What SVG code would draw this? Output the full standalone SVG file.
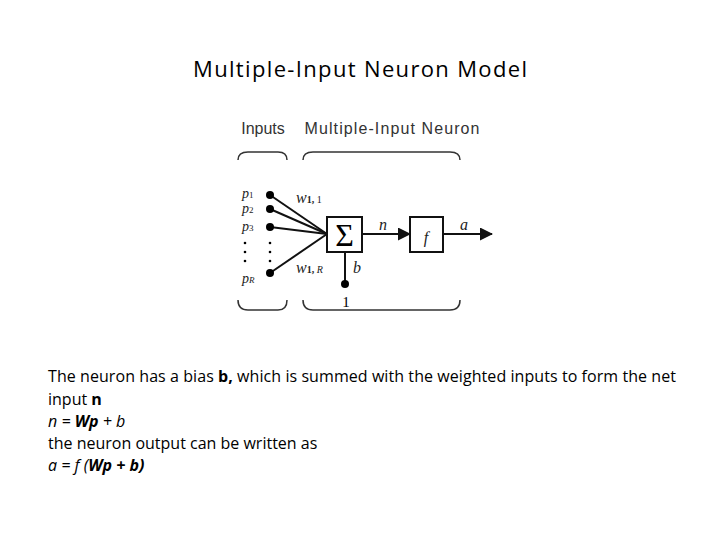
<svg xmlns="http://www.w3.org/2000/svg" width="720" height="540" viewBox="0 0 720 540">
<defs>
<style>
.s{font-family:"Liberation Serif",serif;font-style:italic;font-size:16px;fill:#222}
.p{font-size:14px}
.h{font-family:"Liberation Sans",Arial,sans-serif;font-size:16px;fill:#333}
.t{font-family:"Open Sans","Liberation Sans",sans-serif;font-size:16px;fill:#000}
.ln{stroke:#111;stroke-width:2;fill:none}
.br{stroke:#333;stroke-width:1.5;fill:none}
</style>
<marker id="ar" markerWidth="13" markerHeight="13" refX="12" refY="6.5" orient="auto" markerUnits="userSpaceOnUse"><path d="M0,0 L13,6.5 L0,13 Z" fill="#111"/></marker>
</defs>
<rect width="720" height="540" fill="#fff"/>
<text x="360" y="77" text-anchor="middle" font-family="Open Sans,Liberation Sans,sans-serif" font-size="22" textLength="334">Multiple-Input Neuron Model</text>
<text class="h" x="263" y="134" text-anchor="middle">Inputs</text>
<text class="h" x="392" y="134" text-anchor="middle" textLength="175">Multiple-Input Neuron</text>
<g id="braces" class="br">
<path d="M238,160 Q238,152 248,152 L278,152 Q287,152 287,160"/>
<path d="M303,160 Q303,152 313,152 L450,152 Q460,152 460,160"/>
<path d="M238,300 Q238,310 248,310 L278,310 Q287,310 287,300"/>
<path d="M303,300 Q303,310 313,310 L450,310 Q460,310 460,300"/>
</g>
<g id="connectors" class="ln">
<line x1="270" y1="195" x2="327" y2="234"/>
<line x1="270" y1="209" x2="327" y2="234"/>
<line x1="270" y1="227" x2="327" y2="234"/>
<line x1="270" y1="273" x2="327" y2="234"/>
<line x1="362" y1="234" x2="410" y2="234" marker-end="url(#ar)"/>
<line x1="443" y1="234" x2="492" y2="234" marker-end="url(#ar)"/>
<line x1="345" y1="252" x2="345" y2="283"/>
</g>
<g id="inputs">
<circle cx="270" cy="195" r="4"/><circle cx="270" cy="209" r="4"/><circle cx="270" cy="227" r="4"/><circle cx="270" cy="273" r="4"/>
<circle cx="245" cy="243" r="1.3"/><circle cx="245" cy="252" r="1.3"/><circle cx="245" cy="261" r="1.3"/>
<circle cx="270" cy="243" r="1.3"/><circle cx="270" cy="252" r="1.3"/><circle cx="270" cy="261" r="1.3"/>
<text class="s p" x="242" y="198">p<tspan font-size="9" font-style="normal">1</tspan></text>
<text class="s p" x="242" y="213">p<tspan font-size="9" font-style="normal">2</tspan></text>
<text class="s p" x="242" y="231">p<tspan font-size="9" font-style="normal">3</tspan></text>
<text class="s p" x="242" y="283">p<tspan font-size="9">R</tspan></text>
<text class="s" x="296" y="203">w<tspan font-size="10" font-style="normal" font-weight="bold">1,</tspan><tspan font-size="10" font-style="normal"> 1</tspan></text>
<text class="s" x="296" y="273">w<tspan font-size="10" font-style="normal" font-weight="bold">1,</tspan><tspan font-size="10"> R</tspan></text>
</g>
<g id="sum">
<rect x="327" y="217" width="35" height="35" fill="#fff" stroke="#111" stroke-width="2"/>
<text x="344.5" y="246" text-anchor="middle" font-family="Liberation Serif,serif" font-size="32">Σ</text>
</g>
<g id="func">
<rect x="410" y="217" width="33" height="35" fill="#fff" stroke="#111" stroke-width="2"/>
<text class="s" x="426" y="243" text-anchor="middle" font-size="24">f</text>
</g>
<text class="s" x="383" y="230" text-anchor="middle">n</text>
<text class="s" x="464" y="230" text-anchor="middle">a</text>
<g id="bias">
<circle cx="345" cy="284" r="4"/>
<text class="s" x="357" y="273" text-anchor="middle">b</text>
<text x="346" y="307" text-anchor="middle" font-family="Liberation Serif,serif" font-size="15">1</text>
</g>
<g class="t">
<text x="48" y="382" textLength="628">The neuron has a bias <tspan font-weight="bold">b,</tspan> which is summed with the weighted inputs to form the net</text>
<text x="48" y="405">input <tspan font-weight="bold">n</tspan></text>
<text x="48" y="427" font-style="italic">n = <tspan font-weight="bold">Wp</tspan> + b</text>
<text x="48" y="449">the neuron output can be written as</text>
<text x="48" y="471" font-style="italic">a = f (<tspan font-weight="bold">Wp + b)</tspan></text>
</g>
</svg>
